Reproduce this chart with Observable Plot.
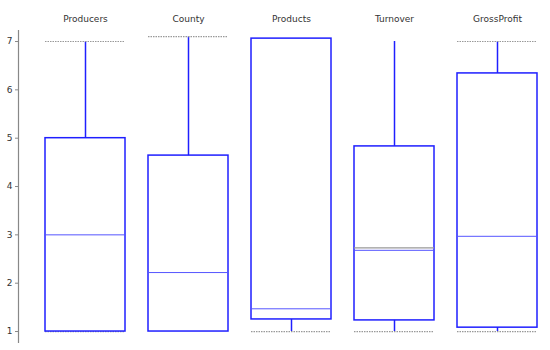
<!DOCTYPE html>
<html>
<head>
<meta charset="utf-8">
<script src="https://cdn.jsdelivr.net/npm/d3@7"></script>
<script src="https://cdn.jsdelivr.net/npm/@observablehq/plot@0.6"></script>
<style>
  html, body { margin: 0; padding: 0; background: #fff; }
</style>
</head>
<body>
<div id="chart"></div>
<script>
const categories = ["Producers", "County", "Products", "Turnover", "GrossProfit"];
const mins    = [1, 1, 1, 1, 1];
const q1s     = [1, 1, 1.25, 1.23, 1.08];
const medians = [3, 2.22, 1.47, 2.68, 2.97];
const q3s     = [5, 4.64, 7.06, 4.83, 6.34];
const maxs    = [7, 7.1, 7.06, 7, 7];
const upperCaps = [7, 7.1, null, null, 7];
const lowerCaps = [1, null, 1, 1, 1];
const grayMedians = [null, null, null, 2.73, null];
const yTicks = [1, 2, 3, 4, 5, 6, 7];

const rows = categories.map((c, i) => ({
  cat: c, min: mins[i], q1: q1s[i], median: medians[i], q3: q3s[i], max: maxs[i]
}));
const caps = [];
categories.forEach((c, i) => {
  if (upperCaps[i] != null) caps.push({cat: c, y: upperCaps[i]});
  if (lowerCaps[i] != null) caps.push({cat: c, y: lowerCaps[i]});
});
const grayLines = categories.map((c, i) => ({cat: c, y: grayMedians[i]})).filter(d => d.y != null);

const blue = "#1f1fff";

const chart = Plot.plot({
  width: 550,
  height: 350,
  marginLeft: 18,
  marginRight: 4,
  marginTop: 30,
  marginBottom: 8,
  style: {background: "#fff", fontFamily: "DejaVu Sans", fontSize: "9px", color: "#333"},
  x: {domain: categories, insetLeft: 18, paddingInner: 0.223, paddingOuter: 0.08, axis: null},
  y: {domain: [0.773, 7.228], axis: null},
  marks: [
    Plot.frame({anchor: "left", stroke: "#888", strokeWidth: 1.2}),
    Plot.axisY(yTicks, {anchor: "left", tickSize: 3, tickPadding: 3, stroke: "#888", fill: "#333", fontSize: 9, tickFormat: d => d}),
    Plot.ruleX(rows, {x: "cat", y1: "q3", y2: "max", stroke: blue, strokeWidth: 1.5}),
    Plot.ruleX(rows, {x: "cat", y1: "min", y2: "q1", stroke: blue, strokeWidth: 1.5}),
    Plot.tickY(caps, {x: "cat", y: "y", stroke: "#999", strokeWidth: 1.2, strokeDasharray: "1.5,1"}),
    Plot.barY(rows, {x: "cat", y1: "q1", y2: "q3", fill: "none", stroke: blue, strokeWidth: 1.5}),
    Plot.tickY(grayLines, {x: "cat", y: "y", stroke: "#999", strokeWidth: 1.2}),
    Plot.tickY(rows, {x: "cat", y: "median", stroke: "#5555ff", strokeWidth: 1}),
    Plot.text(rows, {x: "cat", text: "cat", frameAnchor: "top", dy: -15, fill: "#333", fontSize: 9})
  ]
});
document.getElementById("chart").appendChild(chart);
</script>
</body>
</html>
